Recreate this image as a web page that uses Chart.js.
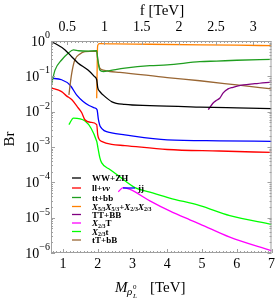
<!DOCTYPE html>
<html>
<head>
<meta charset="utf-8">
<script src="https://cdn.jsdelivr.net/npm/chart.js@4.4.1/dist/chart.umd.min.js"></script>
<style>
  html, body { margin: 0; padding: 0; background: #fff; }
</style>
</head>
<body>
<canvas id="c" width="278" height="299"></canvas>
<script>
// values (mass in TeV, branching ratio)
const seriesNames = ['WW+ZH', 'll+*νν*', 'tt+bb', '*X*_{5/3}*X*_{5/3}+*X*_{2/3}*X*_{2/3}',
  'TT+BB', '*X*_{2/3}T', '*X*_{2/3}t', 'tT+bB', 'jj'];
const seriesColors = ['#000000', '#ff0000', '#1f9e1f', '#ff8000', '#800080', '#ff00ff', '#00ff00', '#996633', '#0000ff'];

const massWW = [0.655, 0.8, 1.06, 1.25, 1.43, 1.72, 1.9, 1.97, 2.0, 2.05, 2.15, 2.41, 2.78, 3.5, 4.94, 6, 7];
const brWW = [0.95, 0.82, 0.56, 0.36, 0.24, 0.15, 0.1, 0.08, 0.048, 0.038, 0.030, 0.019, 0.016, 0.0148, 0.0135, 0.0128, 0.0122];

const massLL = [0.655, 0.96, 1.1, 1.25, 1.44, 1.54, 1.63, 1.8, 1.97, 2.0, 2.05, 2.11, 2.4, 2.78, 4, 5.5, 7];
const brLL = [0.047, 0.037, 0.028, 0.022, 0.0127, 0.0093, 0.0059, 0.005, 0.0043, 0.0022, 0.0016, 0.00145, 0.00118, 0.0011, 0.00085, 0.00077, 0.0007];

const massTB = [0.655, 0.77, 0.96, 1.15, 1.3, 1.45, 1.73, 1.97, 2.0, 2.06, 2.16, 2.35, 2.78, 3.5, 4, 4.94, 5.42, 6, 7];
const brTB = [0.051, 0.15, 0.29, 0.45, 0.56, 0.53, 0.52, 0.53, 0.3, 0.15, 0.137, 0.146, 0.17, 0.2, 0.21, 0.26, 0.27, 0.285, 0.3];

const massXX = [1.97, 1.98, 1.99, 2.0, 2.05, 2.5, 3.5, 5, 6, 7];
const brXX = [0.024, 0.1, 0.5, 0.75, 0.84, 0.83, 0.81, 0.78, 0.76, 0.74];

const massTT = [5.18, 5.32, 5.42, 5.51, 5.61, 5.75, 5.89, 6.04, 6.52, 7];
const brTT = [0.0114, 0.0176, 0.021, 0.024, 0.034, 0.044, 0.049, 0.054, 0.062, 0.069];

const massXT = [2.59, 2.73, 2.93, 3.5, 4.07, 4.65, 4.94, 5.8, 7];
const brXT = [5.4e-5, 7.1e-5, 6.3e-5, 3.0e-5, 1.55e-5, 8.7e-6, 6.6e-6, 2.8e-6, 1.15e-6];

const massXt = [1.17, 1.3, 1.97, 2.01, 2.06, 2.11, 2.35, 2.59, 3.07, 3.5, 4.07, 4.94, 5.8, 7];
const brXt = [0.0043, 0.0066, 0.00146, 0.0009, 0.0005, 0.00036, 0.00023, 0.000155, 7.1e-5, 5.3e-5, 3.6e-5, 2.2e-5, 1.15e-5, 6.5e-6];

const massTb = [1.17, 1.25, 1.34, 1.49, 1.63, 1.97, 2.0, 2.06, 2.16, 2.35, 2.64, 4.0, 4.94, 6, 7];
const brTb = [0.03, 0.12, 0.29, 0.43, 0.5, 0.52, 0.3, 0.17, 0.15, 0.137, 0.13, 0.092, 0.075, 0.057, 0.044];

const massJJ = [0.655, 0.96, 1.2, 1.39, 1.58, 1.75, 1.92, 1.98, 2.02, 2.08, 2.4, 2.78, 4, 5.5, 7];
const brJJ = [0.089, 0.08, 0.057, 0.03, 0.0195, 0.015, 0.0127, 0.0113, 0.006, 0.0037, 0.0025, 0.0022, 0.0016, 0.0015, 0.00145];

const mTicks = [1, 2, 3, 4, 5, 6, 7];
const fTicks = [0.5, 1, 1.5, 2, 2.5, 3];
const brTicks = [1e-6, 1e-5, 1e-4, 1e-3, 1e-2, 1e-1, 1];

const masses = [massWW, massLL, massTB, massXX, massTT, massXT, massXt, massTb, massJJ];
const brs = [brWW, brLL, brTB, brXX, brTT, brXT, brXt, brTb, brJJ];

const SERIF = '"Liberation Serif", "DejaVu Serif", serif';
const SUP = { '-': '\u2212', '0': '0', '1': '1', '2': '2', '3': '3', '4': '4', '5': '5', '6': '6' };

// tiny markup: *..* italic, _{..} subscript
function parseRich(s) {
    const out = [];
    let it = false, i = 0;
    while (i < s.length) {
        const ch = s[i];
        if (ch === '*') { it = !it; i++; continue; }
        if (ch === '_' && s[i + 1] === '{') {
            const j = s.indexOf('}', i);
            out.push({ t: s.slice(i + 2, j), it: false, sub: true });
            i = j + 1;
            continue;
        }
        const last = out[out.length - 1];
        if (last && !last.sub && last.it === it) last.t += ch;
        else out.push({ t: ch, it: it, sub: false });
        i++;
    }
    return out;
}

function drawRich(ctx, s, x, y, size) {
    for (const seg of parseRich(s)) {
        const fs = seg.sub ? size * 0.66 : size;
        ctx.font = (seg.it ? 'italic ' : '') + 'bold ' + fs + 'px ' + SERIF;
        ctx.fillText(seg.t, x, seg.sub ? y + size * 0.22 : y);
        x += ctx.measureText(seg.t).width;
    }
}

const framePlugin = {
    id: 'frame',
    afterDatasetsDraw(chart) {
        const { ctx, chartArea: a, scales } = chart;
        ctx.save();
        ctx.strokeStyle = '#a0a0a0';
        ctx.lineWidth = 1;
        ctx.strokeRect(a.left + 0.5, a.top + 0.5, a.right - a.left - 1, a.bottom - a.top - 1);

        ctx.beginPath();
        // bottom ticks (mass)
        for (let i = 7; i <= 70; i++) {
            const px = Math.round(scales.x.getPixelForValue(i / 10)) + 0.5;
            const len = i % 10 === 0 ? 4 : 2;
            ctx.moveTo(px, a.bottom);
            ctx.lineTo(px, a.bottom - len);
        }
        // top ticks (f)
        for (let i = 6; i <= 64; i++) {
            const px = Math.round(scales.x2.getPixelForValue(i / 20)) + 0.5;
            const len = i % 10 === 0 ? 4 : 2;
            ctx.moveTo(px, a.top);
            ctx.lineTo(px, a.top + len);
        }
        // left / right log ticks
        for (let k = -6; k <= 0; k++) {
            for (let m = 1; m <= 9; m++) {
                const v = m * Math.pow(10, k);
                if (v > 1) break;
                const py = Math.round(scales.y.getPixelForValue(v)) + 0.5;
                const len = m === 1 ? 4 : 2;
                ctx.moveTo(a.left, py);
                ctx.lineTo(a.left + len, py);
                ctx.moveTo(a.right, py);
                ctx.lineTo(a.right - len, py);
            }
        }
        ctx.stroke();

        // y tick labels 10^k
        ctx.fillStyle = '#000';
        ctx.textBaseline = 'alphabetic';
        ctx.textAlign = 'left';
        for (const v of brTicks) {
            const py = scales.y.getPixelForValue(v);
            const ex = String(Math.round(Math.log10(v))).split('').map(c => SUP[c]).join('');
            ctx.font = '10px ' + SERIF;
            const ew = ctx.measureText(ex).width;
            ctx.font = '14px ' + SERIF;
            const bw = ctx.measureText('10').width;
            const right = 50;
            ctx.fillText('10', right - ew - bw, py + 4.6);
            ctx.font = '10px ' + SERIF;
            ctx.fillText(ex, right - ew, py - 3);
        }

        // axis titles
        ctx.font = '15px ' + SERIF;
        ctx.textAlign = 'center';
        ctx.fillText('f [TeV]', 162, 15);

        ctx.save();
        ctx.translate(14, 139);
        ctx.rotate(-Math.PI / 2);
        ctx.fillText('Br', 0, 0);
        ctx.restore();

        ctx.textAlign = 'left';
        ctx.font = 'italic 15px ' + SERIF;
        ctx.fillText('M', 115, 292);
        ctx.font = 'italic 11px ' + SERIF;
        ctx.fillText('\u03c1', 127, 295);
        ctx.font = 'italic 7px ' + SERIF;
        ctx.fillText('L', 133, 298);
        ctx.font = '7px ' + SERIF;
        ctx.fillText('0', 133, 289);
        ctx.font = '15px ' + SERIF;
        ctx.fillText('[TeV]', 150, 292);

        // legend
        const rows = [178, 188, 197.5, 206.5, 214.5, 223, 231.5, 240];
        ctx.lineWidth = 1.3;
        for (let i = 0; i < 9; i++) {
            const ly = i < 8 ? rows[i] : rows[1];
            const lx = i < 8 ? 72 : 123;
            const tx = i < 8 ? 92 : 138;
            ctx.strokeStyle = seriesColors[i];
            ctx.beginPath();
            ctx.moveTo(lx, ly);
            ctx.lineTo(lx + (i < 8 ? 9 : 12), ly);
            ctx.stroke();
            ctx.fillStyle = '#000';
            drawRich(ctx, seriesNames[i], tx, ly + 3, 9);
        }
        ctx.restore();
    }
};

const datasets = seriesNames.map((name, i) => ({
    label: name,
    data: masses[i].map((m, j) => ({ x: m, y: brs[i][j] })),
    borderColor: seriesColors[i],
    borderWidth: 1.3,
    pointRadius: 0,
    fill: false,
    cubicInterpolationMode: 'monotone'
}));

new Chart(document.getElementById('c'), {
    type: 'line',
    data: { datasets: datasets },
    options: {
        responsive: false,
        animation: false,
        layout: { padding: { left: 0, right: 6, top: 0, bottom: 0 } },
        plugins: { legend: { display: false }, tooltip: { enabled: false } },
        scales: {
            x: {
                type: 'linear',
                position: 'bottom',
                min: 0.655,
                max: 7,
                grid: { display: false, drawTicks: false },
                border: { display: false },
                afterBuildTicks: s => { s.ticks = mTicks.map(v => ({ value: v })); },
                afterFit: s => { s.height = 46; },
                ticks: { color: '#000', font: { family: SERIF, size: 14 }, padding: 3, maxRotation: 0, callback: v => String(v) }
            },
            x2: {
                type: 'linear',
                position: 'top',
                min: 0.281,
                max: 3.245,
                grid: { display: false, drawTicks: false },
                border: { display: false },
                afterBuildTicks: s => { s.ticks = fTicks.map(v => ({ value: v })); },
                afterFit: s => { s.height = 41; },
                ticks: { color: '#000', font: { family: SERIF, size: 14 }, padding: 5, maxRotation: 0, callback: v => String(v) }
            },
            y: {
                type: 'logarithmic',
                min: 1e-6,
                max: 1,
                grid: { display: false, drawTicks: false },
                border: { display: false },
                afterBuildTicks: s => { s.ticks = brTicks.map(v => ({ value: v })); },
                afterFit: s => { s.width = 51; },
                ticks: { display: false }
            }
        }
    },
    plugins: [framePlugin]
});
</script>
</body>
</html>
